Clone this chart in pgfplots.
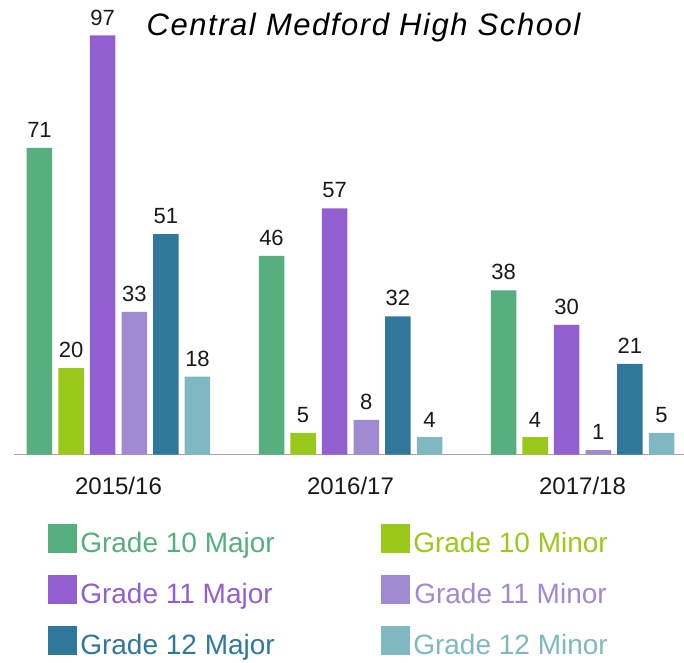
\documentclass[border=0pt]{standalone}
\usepackage{fontspec}
\setmainfont{Liberation Sans}
\usepackage{pgfplots}
\pgfplotsset{compat=1.18}
\definecolor{gA}{HTML}{57AE7F}
\definecolor{gB}{HTML}{9BC91B}
\definecolor{pA}{HTML}{925FD0}
\definecolor{pB}{HTML}{A08AD2}
\definecolor{bA}{HTML}{2F789C}
\definecolor{bB}{HTML}{80B8C1}
\begin{document}
\begin{tikzpicture}
\path[use as bounding box] (0,0) rectangle (684pt,662pt);
\begin{axis}[
  at={(14pt,207.5pt)}, anchor=south west,
  scale only axis, width=670pt, height=432pt,
  xmin=-0.4504, xmax=2.4375, ymin=0, ymax=100,
  axis x line=bottom, axis y line=none,
  axis line style={draw=black!35, line width=1pt, -},
  xtick={0,1,2}, xticklabels={2015/16,2016/17,2017/18},
  major tick length=0pt, xtick style={draw=none},
  xticklabel style={font=\fontsize{24}{24}\selectfont, anchor=north, inner sep=0pt, yshift=-22pt, text=black!90},
  ybar=6.1pt, bar width=25.5pt,
  clip=false,
  /pgf/number format/assume math mode=true,
  nodes near coords,
  nodes near coords style={font=\fontsize{22}{22}\selectfont, anchor=south, inner sep=0pt, yshift=10pt, text=black!90},
  legend columns=2,
  legend style={at={(axis description cs:0.0507,-0.1616)}, anchor=north west, draw=none, fill=none,
    inner sep=0pt, outer sep=0pt, nodes={inner sep=0pt},
    font=\fontsize{28}{28}\selectfont,
    /tikz/every odd column/.append style={column sep=3.3pt},
    /tikz/every even column/.append style={column sep=0pt},
    row sep=21.8pt},
  legend image code/.code={\fill[#1] (0pt,-10.7pt) rectangle (29pt,18.3pt);},
]
\addplot[fill=gA, draw=none] coordinates {(0,71) (1,46) (2,38)};
\addlegendentry{\makebox[300.7pt][l]{\textcolor{gA}{Grade 10 Major}}}
\addplot[fill=gB, draw=none] coordinates {(0,20) (1,5) (2,4)};
\addlegendentry{\textcolor{gB}{Grade 10 Minor}}
\addplot[fill=pA, draw=none] coordinates {(0,97) (1,57) (2,30)};
\addlegendentry{\makebox[300.7pt][l]{\textcolor{pA}{Grade 11 Major}}}
\addplot[fill=pB, draw=none] coordinates {(0,33) (1,8) (2,1)};
\addlegendentry{\textcolor{pB}{Grade 11 Minor}}
\addplot[fill=bA, draw=none] coordinates {(0,51) (1,32) (2,21)};
\addlegendentry{\makebox[300.7pt][l]{\textcolor{bA}{Grade 12 Major}}}
\addplot[fill=bB, draw=none] coordinates {(0,18) (1,4) (2,5)};
\addlegendentry{\textcolor{bB}{Grade 12 Minor}}
\end{axis}
\node[anchor=base, font=\fontsize{31}{31}\selectfont\itshape\addfontfeature{LetterSpace=5}] at (363.5pt,626pt) {Central Medford High School};
\end{tikzpicture}
\end{document}
